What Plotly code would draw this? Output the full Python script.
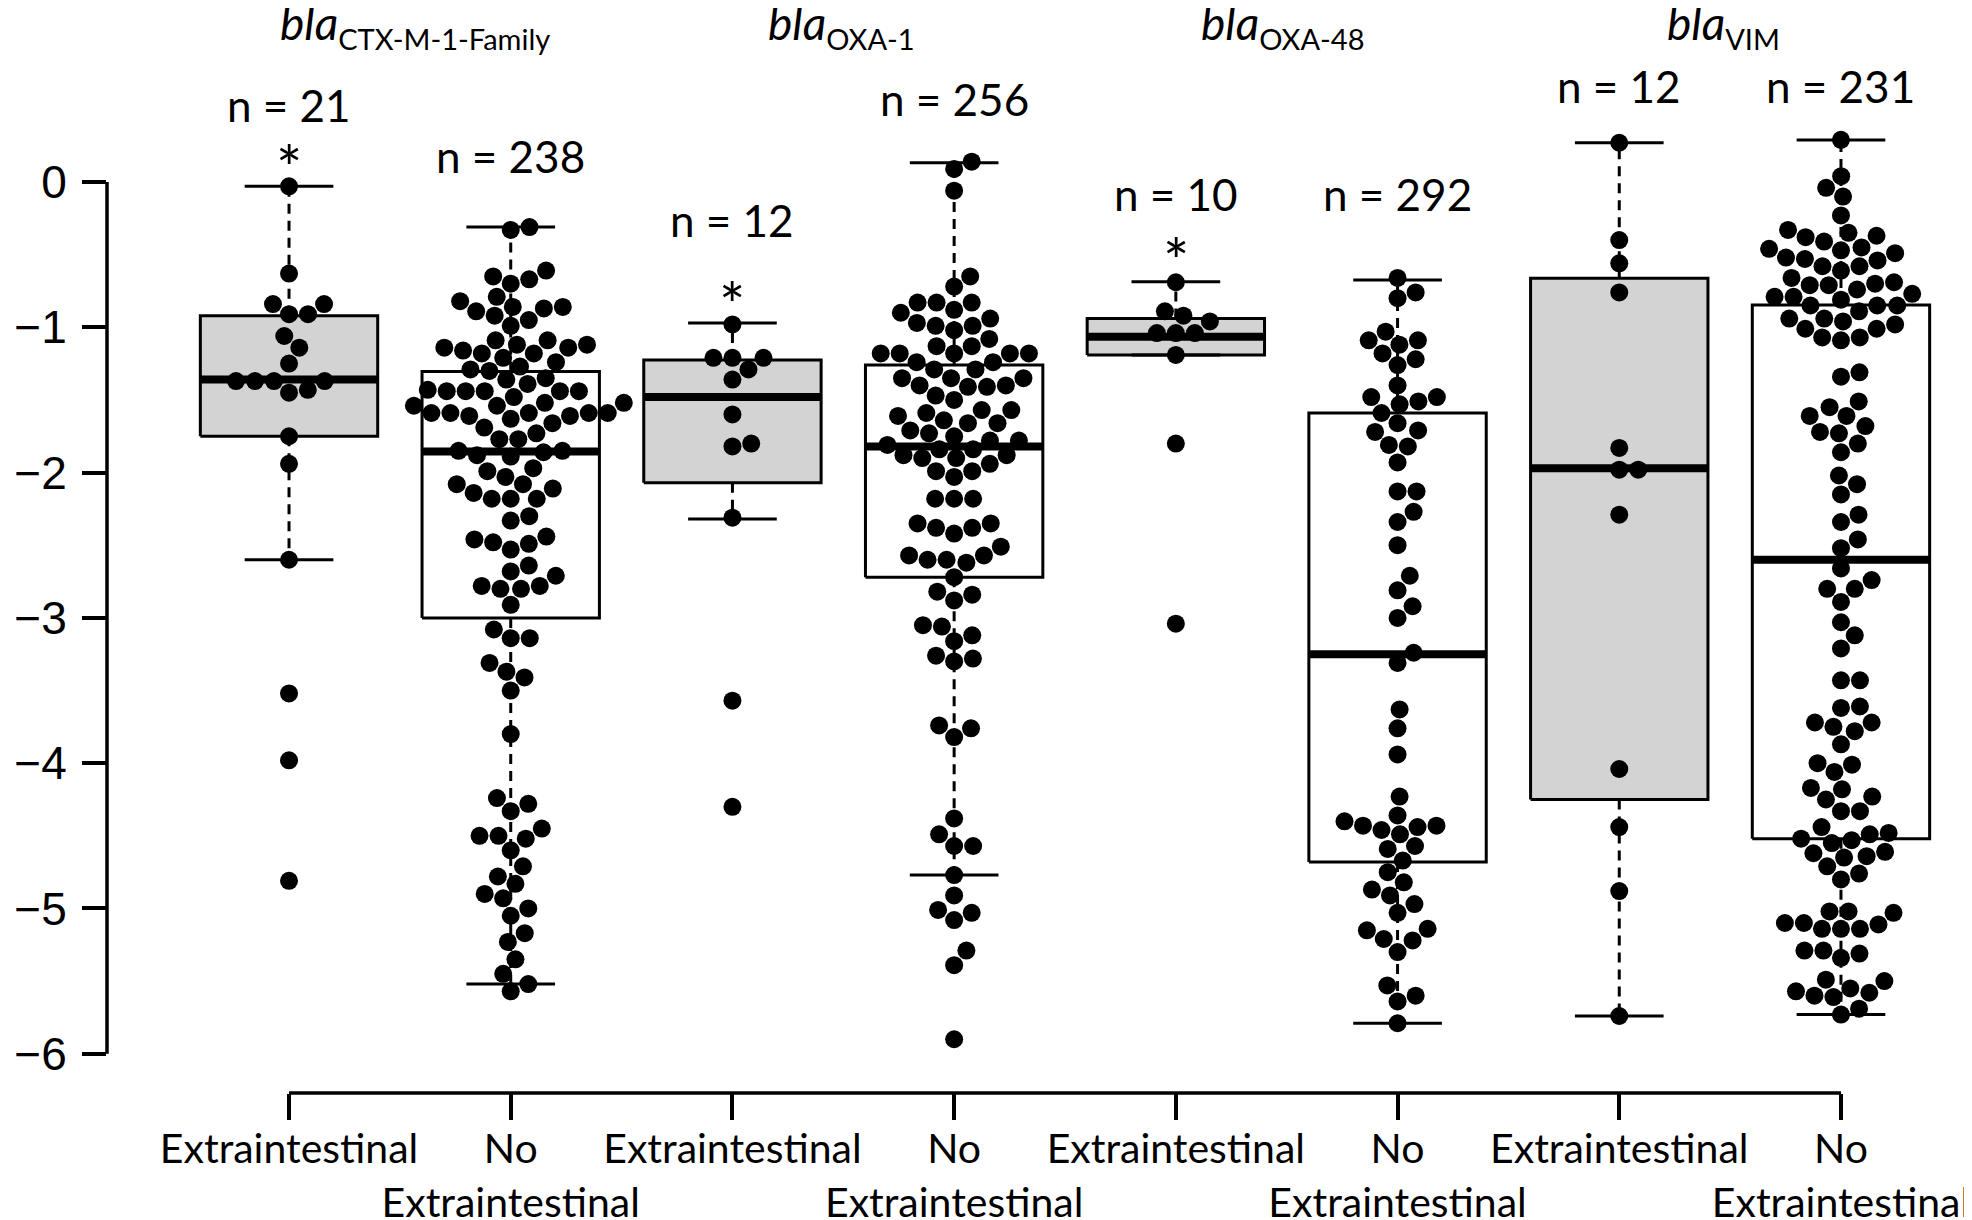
import math
import plotly.graph_objects as go

# ---- data ----
genes = ["CTX-M-1-Family", "OXA-1", "OXA-48", "VIM"]
categories = ["Extraintestinal", "No<br>Extraintestinal"] * 4
n_counts = [21, 238, 12, 256, 10, 292, 12, 231]

ctx_ext = [-0.03, -0.63, -0.84, -0.84, -0.91, -0.91, -1.06, -1.14, -1.25, -1.37,
           -1.37, -1.37, -1.37, -1.43, -1.45, -1.75, -1.94, -2.60, -3.52, -3.98, -4.81]
ctx_no = [-0.31, -0.33, -0.61, -0.65, -0.67, -0.70, -0.79, -0.82, -0.86, -0.86, -0.87,
          -0.89, -0.92, -0.95, -0.99, -1.09, -1.09, -1.12, -1.12, -1.14, -1.14, -1.16,
          -1.18, -1.18, -1.21, -1.24, -1.27, -1.29, -1.30, -1.35, -1.36, -1.39, -1.43,
          -1.44, -1.44, -1.44, -1.44, -1.44, -1.48, -1.52, -1.52, -1.54, -1.54, -1.59,
          -1.59, -1.59, -1.59, -1.59, -1.61, -1.61, -1.63, -1.66, -1.69, -1.73, -1.77,
          -1.77, -1.85, -1.85, -1.86, -1.88, -1.89, -1.97, -1.99, -2.03, -2.08, -2.08,
          -2.11, -2.14, -2.18, -2.18, -2.18, -2.30, -2.33, -2.44, -2.46, -2.48, -2.49,
          -2.53, -2.64, -2.68, -2.71, -2.78, -2.78, -2.80, -2.80, -2.91, -3.08, -3.14,
          -3.14, -3.31, -3.37, -3.41, -3.50, -3.80, -4.24, -4.28, -4.33, -4.45, -4.50,
          -4.50, -4.52, -4.60, -4.71, -4.78, -4.83, -4.90, -4.93, -5.00, -5.05, -5.17,
          -5.23, -5.35, -5.45, -5.52, -5.57]
oxa1_ext = [-0.98, -1.21, -1.21, -1.21, -1.29, -1.36, -1.60, -1.80, -1.82, -2.31, -3.57, -4.30]
oxa1_no = [0.14, 0.09, -0.06, -0.65, -0.72, -0.83, -0.83, -0.83, -0.88, -0.90, -0.94,
           -0.97, -0.99, -0.99, -1.02, -1.08, -1.13, -1.13, -1.18, -1.18, -1.18, -1.18,
           -1.18, -1.24, -1.24, -1.29, -1.29, -1.35, -1.35, -1.35, -1.40, -1.40, -1.41,
           -1.41, -1.47, -1.50, -1.57, -1.57, -1.59, -1.61, -1.64, -1.66, -1.66, -1.71,
           -1.73, -1.75, -1.78, -1.78, -1.81, -1.84, -1.84, -1.88, -1.88, -1.90, -1.90,
           -1.94, -1.99, -1.99, -2.03, -2.18, -2.18, -2.18, -2.35, -2.35, -2.38, -2.38,
           -2.42, -2.51, -2.57, -2.57, -2.60, -2.60, -2.62, -2.72, -2.82, -2.84, -2.88,
           -3.05, -3.06, -3.12, -3.16, -3.26, -3.28, -3.30, -3.74, -3.76, -3.82, -4.38,
           -4.49, -4.57, -4.57, -4.77, -4.91, -5.01, -5.03, -5.08, -5.29, -5.39, -5.90]
oxa48_ext = [-0.69, -0.89, -0.92, -0.96, -1.04, -1.04, -1.04, -1.19, -1.80, -3.04]
oxa48_no = [-0.66, -0.76, -0.80, -1.03, -1.09, -1.09, -1.12, -1.18, -1.22, -1.26, -1.40,
            -1.48, -1.48, -1.51, -1.53, -1.59, -1.66, -1.71, -1.72, -1.81, -1.82, -1.93,
            -2.13, -2.13, -2.27, -2.34, -2.50, -2.71, -2.81, -2.92, -3.00, -3.24, -3.31,
            -3.63, -3.76, -3.94, -4.23, -4.36, -4.40, -4.43, -4.43, -4.44, -4.46, -4.49,
            -4.57, -4.59, -4.67, -4.75, -4.82, -4.87, -4.91, -4.97, -5.03, -5.14, -5.15,
            -5.21, -5.22, -5.30, -5.53, -5.60, -5.64, -5.79]
vim_ext = [0.27, -0.40, -0.56, -0.76, -1.83, -1.98, -1.98, -2.29, -4.04, -4.44, -4.88, -5.74]
vim_no = [0.29, 0.04, -0.04, -0.10, -0.23, -0.33, -0.35, -0.37, -0.38, -0.41, -0.45,
          -0.46, -0.47, -0.49, -0.52, -0.53, -0.54, -0.58, -0.58, -0.61, -0.66, -0.69,
          -0.70, -0.71, -0.71, -0.74, -0.77, -0.79, -0.79, -0.81, -0.85, -0.85, -0.85,
          -0.89, -0.94, -0.94, -0.96, -0.98, -1.01, -1.01, -1.07, -1.07, -1.09, -1.31,
          -1.34, -1.51, -1.55, -1.61, -1.61, -1.68, -1.72, -1.73, -1.80, -1.86, -2.02,
          -2.08, -2.15, -2.29, -2.34, -2.46, -2.52, -2.66, -2.74, -2.80, -2.80, -2.89,
          -3.03, -3.12, -3.21, -3.43, -3.43, -3.61, -3.62, -3.72, -3.72, -3.75, -3.78,
          -3.87, -4.00, -4.01, -4.06, -4.17, -4.18, -4.23, -4.25, -4.33, -4.33, -4.44,
          -4.48, -4.49, -4.52, -4.53, -4.55, -4.61, -4.62, -4.64, -4.65, -4.71, -4.76,
          -4.80, -5.02, -5.02, -5.03, -5.10, -5.10, -5.11, -5.14, -5.14, -5.14, -5.29,
          -5.29, -5.31, -5.34, -5.49, -5.50, -5.55, -5.57, -5.58, -5.60, -5.61, -5.69, -5.73]
groups = [ctx_ext, ctx_no, oxa1_ext, oxa1_no, oxa48_ext, oxa48_no, vim_ext, vim_no]

# box statistics as drawn (lower whisker, Q1, median, Q3, upper whisker)
whisk_lo = [-2.60, -5.52, -2.32, -4.77, -1.19, -5.79, -5.74, -5.73]
q1 = [-1.75, -3.00, -2.07, -2.72, -1.19, -4.68, -4.25, -4.52]
median = [-1.36, -1.855, -1.48, -1.82, -1.065, -3.25, -1.97, -2.60]
q3 = [-0.92, -1.305, -1.225, -1.26, -0.94, -1.59, -0.663, -0.846]
whisk_hi = [-0.03, -0.31, -0.97, 0.133, -0.686, -0.674, 0.27, 0.289]

# where the texts sit (data units)
n_label_y = [0.53, 0.18, -0.26, 0.57, -0.08, -0.08, 0.66, 0.66]
star_groups = [0, 2, 4]
star_y = [0.10, -0.84, -0.54]
title_x = [1.57, 3.49, 5.48, 7.47]
title_y = 1.08

y_ticks = [-6, -5, -4, -3, -2, -1, 0]

# ---- layout constants ----
# the page body adds an 8 px margin, so the figure is 8 px smaller than the window
W, H = 1964, 1212
ML, MR, MT, MB = 99, 0, 0, 127
X_RANGE = [0.179, 8.591]
Y_RANGE = [-6.27, 1.1975]
PX_X = (W - ML - MR) / (X_RANGE[1] - X_RANGE[0])
PX_Y = (H - MT - MB) / (Y_RANGE[1] - Y_RANGE[0])
BOX_HALF = 0.4
CAP_HALF = 0.2
DOT = 18
SPACING = 19.0
LABEL_FONT = "Lato, Carlito, sans-serif"


def swarm(values, d=SPACING):
    """Simple beeswarm: place points bottom-up at the free spot closest to the centre."""
    order = sorted(range(len(values)), key=lambda i: values[i])
    placed = []
    offs = [0.0] * len(values)
    for i in order:
        y = values[i] * PX_Y
        cands = [0.0]
        for xj, yj in placed:
            dy = abs(y - yj)
            if dy < d:
                dx = math.sqrt(d * d - dy * dy)
                cands += [xj + dx, xj - dx]
        cands.sort(key=lambda c: (round(abs(c), 3), -c))
        for c in cands:
            if all((c - xj) ** 2 + (y - yj) ** 2 >= d * d - 1e-6 for xj, yj in placed):
                break
        placed.append((c, y))
        offs[i] = c / PX_X
    return offs


fig = go.Figure()

for k in range(8):
    pos = k + 1
    fill = "#d3d3d3" if k % 2 == 0 else "white"
    # box
    fig.add_trace(go.Scatter(
        x=[pos - BOX_HALF, pos + BOX_HALF, pos + BOX_HALF, pos - BOX_HALF, pos - BOX_HALF],
        y=[q1[k], q1[k], q3[k], q3[k], q1[k]],
        mode="lines", fill="toself", fillcolor=fill,
        line=dict(color="black", width=3), hoverinfo="skip"))
    # dashed whiskers
    fig.add_trace(go.Scatter(
        x=[pos, pos, None, pos, pos],
        y=[q3[k], whisk_hi[k], None, q1[k], whisk_lo[k]],
        mode="lines", line=dict(color="black", width=3, dash="10px,7px"),
        hoverinfo="skip"))
    # staples
    fig.add_trace(go.Scatter(
        x=[pos - CAP_HALF, pos + CAP_HALF, None, pos - CAP_HALF, pos + CAP_HALF],
        y=[whisk_hi[k], whisk_hi[k], None, whisk_lo[k], whisk_lo[k]],
        mode="lines", line=dict(color="black", width=3), hoverinfo="skip"))
    # median
    fig.add_trace(go.Scatter(
        x=[pos - BOX_HALF, pos + BOX_HALF], y=[median[k], median[k]],
        mode="lines", line=dict(color="black", width=8), hoverinfo="skip"))

for k, vals in enumerate(groups):
    offs = swarm(vals)
    fig.add_trace(go.Scatter(
        x=[k + 1 + o for o in offs], y=vals, mode="markers",
        marker=dict(color="black", size=DOT, line=dict(width=0)),
        hoverinfo="y"))

annotations = []
for k in range(8):
    annotations.append(dict(
        x=k + 1, y=n_label_y[k], text=f"n = {n_counts[k]}", showarrow=False,
        xref="x", yref="y", font=dict(family=LABEL_FONT, size=44, color="black")))
for g, y in zip(star_groups, star_y):
    annotations.append(dict(
        x=g + 1, y=y, text="*", showarrow=False, xref="x", yref="y",
        font=dict(family=LABEL_FONT, size=62, color="black")))
for gx, gene in zip(title_x, genes):
    annotations.append(dict(
        x=gx, y=title_y,
        text=f"<i>bla</i><sub><span style='font-size:29px'>{gene}</span></sub>",
        showarrow=False, xref="x", yref="y",
        font=dict(family=LABEL_FONT, size=46, color="black")))

fig.update_layout(
    width=W, height=H,
    margin=dict(l=ML, r=MR, t=MT, b=MB, pad=0),
    paper_bgcolor="white", plot_bgcolor="white",
    showlegend=False,
    annotations=annotations,
    shapes=[
        dict(type="line", xref="paper", yref="y", x0=0, x1=0,
             y0=min(y_ticks), y1=max(y_ticks), line=dict(color="black", width=3.5)),
        dict(type="line", xref="x", yref="paper", x0=1, x1=8, y0=0, y1=0,
             line=dict(color="black", width=3.5)),
    ],
    xaxis=dict(
        range=X_RANGE, showgrid=False, zeroline=False, showline=False,
        automargin=False, tickangle=0,
        tickmode="array", tickvals=list(range(1, 9)), ticktext=categories,
        ticks="outside", ticklen=26, tickwidth=3.5, tickcolor="black",
        ticklabelstandoff=-6,
        tickfont=dict(family=LABEL_FONT, size=41, color="black")),
    yaxis=dict(
        range=Y_RANGE, showgrid=False, zeroline=False, showline=False,
        automargin=False,
        tickmode="array", tickvals=y_ticks,
        ticks="outside", ticklen=24, tickwidth=3.5, tickcolor="black",
        ticklabelstandoff=6,
        tickfont=dict(family="Liberation Sans, Arial, sans-serif", size=46, color="black")),
)

fig.write_html("out.html")
